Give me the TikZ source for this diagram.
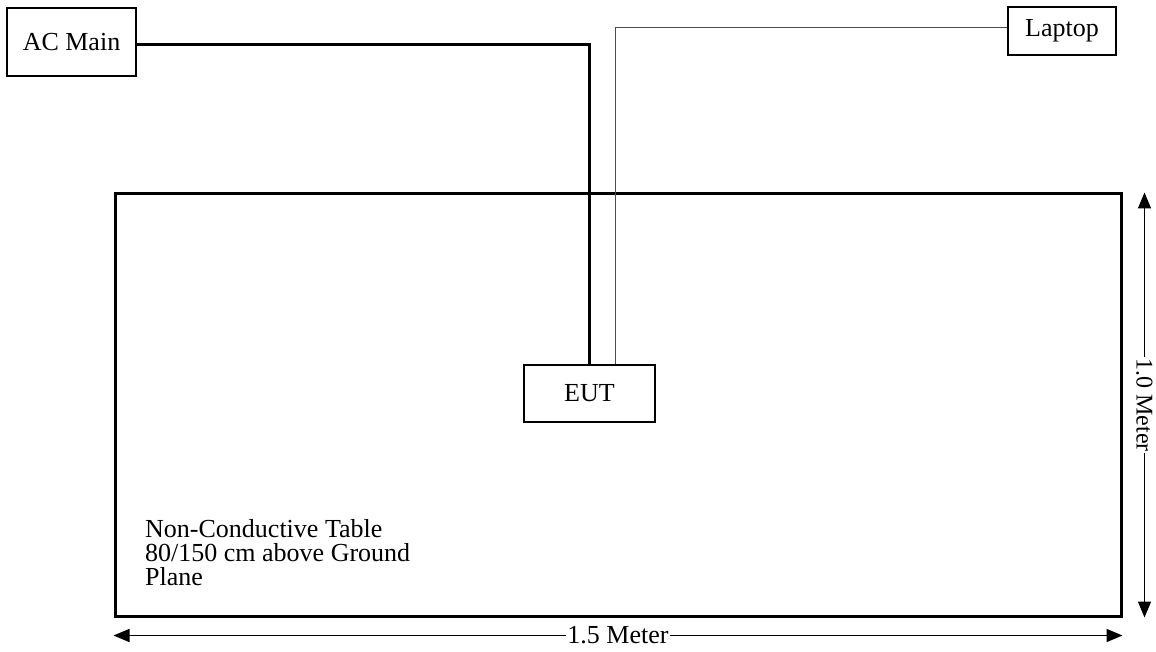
\documentclass[tikz,border=0pt]{standalone}
\usepackage{fontspec}
\setmainfont{Liberation Serif}
\usetikzlibrary{arrows.meta}

\begin{document}
\begin{tikzpicture}[x=1pt,y=-1pt,>={Triangle[length=16pt,width=13pt]},
  font=\fontsize{26}{24}\selectfont,
  unit box/.style={draw,line width=1.3pt,inner sep=0pt},
  table box/.style={draw,line width=3pt,inner sep=0pt},
  power line/.style={line width=3pt},
  data line/.style={line width=0.9pt,black!70},
  dim line/.style={<->,line width=1.5pt},
  dim label/.style={fill=white,inner sep=1pt,text height=16pt,text depth=0pt}]

    \useasboundingbox (0,0) rectangle (1156,652);

    \node[table box,minimum width=1006pt,minimum height=422pt] (table) at (618,405) {};
    \node[unit box,minimum width=129pt,minimum height=68pt] (acmain) at (71.5,42) {AC Main};
    \node[unit box,minimum width=108pt,minimum height=48pt] (laptop) at (1062,31) {Laptop};
    \node[unit box,minimum width=131pt,minimum height=57pt] (eut) at (589.5,393.5) {EUT};
    \node[anchor=north west,align=left,inner sep=0pt] (note) at (145,519)
      {Non-Conductive Table\\80/150 cm above Ground\\Plane};

    % cables
    \draw[power line] ([yshift=-3pt]acmain.east) -| (eut.north);
    \draw[data line] ([yshift=4pt]laptop.west) -| ([xshift=26pt]eut.north);

    % dimensions
    \draw[dim line] ([xshift=22pt]table.north east) -- ([xshift=22pt]table.south east)
      node[midway,dim label,rotate=-90,font=\fontsize{24}{24}\selectfont] {1.0 Meter};
    \draw[dim line] ([yshift=-18pt]table.south west) -- ([yshift=-18pt]table.south east)
      node[midway,dim label] {1.5 Meter};

\end{tikzpicture}
\end{document}
